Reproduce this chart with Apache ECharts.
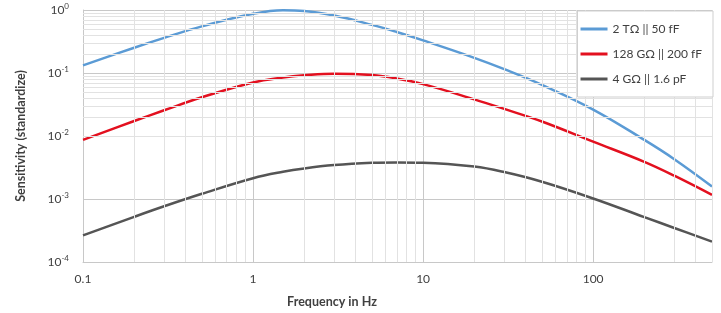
<!DOCTYPE html>
<html>
<head>
<meta charset="utf-8">
<script src="https://cdn.jsdelivr.net/npm/echarts@6/dist/echarts.min.js"></script>
<style>
    html, body { margin: 0; padding: 0; background: #fff; }
    #chart { width: 721px; height: 313px; }
</style>
</head>
<body>
<div id="chart"></div>
<script>
    const freqs = [0.1, 0.2, 0.3, 0.5, 1, 1.5, 2, 3, 5, 7, 10, 20, 30, 50, 100, 200, 300, 500];
    const seriesNames = ['2 TΩ || 50 fF', '128 GΩ || 200 fF', '4 GΩ || 1.6 pF'];
    const blueVals = [0.132, 0.252, 0.361, 0.55, 0.869, 0.993, 0.965, 0.815, 0.581, 0.447, 0.329, 0.174, 0.115, 0.0647, 0.0263, 0.00867, 0.00429, 0.00158];
    const redVals = [0.0087, 0.0173, 0.0256, 0.0412, 0.0708, 0.0849, 0.092, 0.0977, 0.0929, 0.0818, 0.0665, 0.0382, 0.0269, 0.0170, 0.00813, 0.00389, 0.00234, 0.00116];
    const grayVals = [0.000264, 0.000521, 0.000766, 0.00121, 0.00214, 0.00271, 0.00306, 0.00345, 0.00375, 0.00381, 0.00377, 0.00328, 0.00268, 0.00188, 0.00102, 0.000516, 0.000347, 0.00021];
    const colors = ['#5b9bd5', '#e3101f', '#555555'];

    // minor log grid positions
    const xMinor = [0.2, 0.3, 0.4, 0.5, 0.6, 0.7, 0.8, 0.9, 2, 3, 4, 5, 6, 7, 8, 9,
        20, 30, 40, 50, 60, 70, 80, 90, 200, 300, 400, 500];
    const yMinor = [];
    [1e-4, 1e-3, 1e-2, 1e-1].forEach(function (d) {
        for (let k = 2; k <= 9; k++) yMinor.push(+(d * k).toPrecision(3));
    });

    const font = 'Lato';
    let chart = echarts.init(document.getElementById('chart'));

    let seriesData = [{
        name: 'grid',
        type: 'line',
        data: [],
        z: 1,
        silent: true,
        markLine: {
            silent: true,
            symbol: 'none',
            label: { show: false },
            lineStyle: { color: '#e2e2e2', width: 1, type: 'solid' },
            animation: false,
            data: xMinor.map(function (v) { return { xAxis: v }; })
                .concat(yMinor.map(function (v) { return { yAxis: v }; }))
        }
    }];
    const vals = [blueVals, redVals, grayVals];
    for (let i = 0; i < seriesNames.length; i++) {
        seriesData.push({
            name: seriesNames[i],
            type: 'line',
            smooth: 0.4,
            showSymbol: false,
            symbol: 'none',
            z: 3,
            lineStyle: { color: colors[i], width: 2.5 },
            itemStyle: { color: colors[i] },
            data: freqs.map(function (f, j) { return [f, vals[i][j]]; })
        });
    }

    let option = {
        animation: false,
        grid: { left: 83, right: 9, top: 10, bottom: 50 },
        legend: {
            data: seriesNames,
            orient: 'vertical',
            right: 8,
            top: 11,
            z: 10,
            icon: 'rect',
            backgroundColor: '#fff',
            borderColor: '#cfcfcf',
            borderWidth: 1,
            borderRadius: 0,
            padding: [10, 11, 10, 3],
            itemWidth: 27,
            itemHeight: 3,
            itemGap: 9,
            textStyle: { fontFamily: font, fontSize: 12, color: '#404040', lineHeight: 16 }
        },
        xAxis: {
            type: 'log',
            min: 0.1,
            max: 500,
            name: 'Frequency in Hz',
            nameLocation: 'middle',
            nameGap: 33,
            nameTextStyle: { fontFamily: font, fontSize: 12.5, fontWeight: 'bold', color: '#404040', padding: [0, 131, 0, 0] },
            axisLine: { lineStyle: { color: '#c8c8c8' } },
            axisTick: { show: false },
            splitLine: { show: true, lineStyle: { color: '#c8c8c8' } },
            axisLabel: {
                margin: 11,
                fontFamily: font, fontSize: 12, color: '#404040',
                formatter: function (v) {
                    let e = Math.log10(v);
                    return Math.abs(e - Math.round(e)) < 1e-6 ? String(+v.toPrecision(3)) : '';
                }
            }
        },
        yAxis: {
            type: 'log',
            min: 1e-4,
            max: 1,
            name: 'Sensitivity (standardize)',
            nameLocation: 'middle',
            nameGap: 56,
            nameTextStyle: { fontFamily: font, fontSize: 12.5, fontWeight: 'bold', color: '#404040' },
            axisLine: { show: true, lineStyle: { color: '#c8c8c8' } },
            axisTick: { show: false },
            splitLine: { show: true, lineStyle: { color: '#c8c8c8' } },
            axisLabel: {
                margin: 14,
                formatter: function (v) {
                    let e = Math.round(Math.log10(v));
                    return '{b|10}{s|' + (e === 0 ? '0' : e) + '}';
                },
                rich: {
                    b: { fontFamily: font, fontSize: 12, color: '#404040', lineHeight: 16 },
                    s: { fontFamily: font, fontSize: 8, color: '#404040', verticalAlign: 'top', lineHeight: 16, padding: [0, 0, 6, 0] }
                }
            }
        },
        series: seriesData
    };
    chart.setOption(option);
</script>
</body>
</html>
